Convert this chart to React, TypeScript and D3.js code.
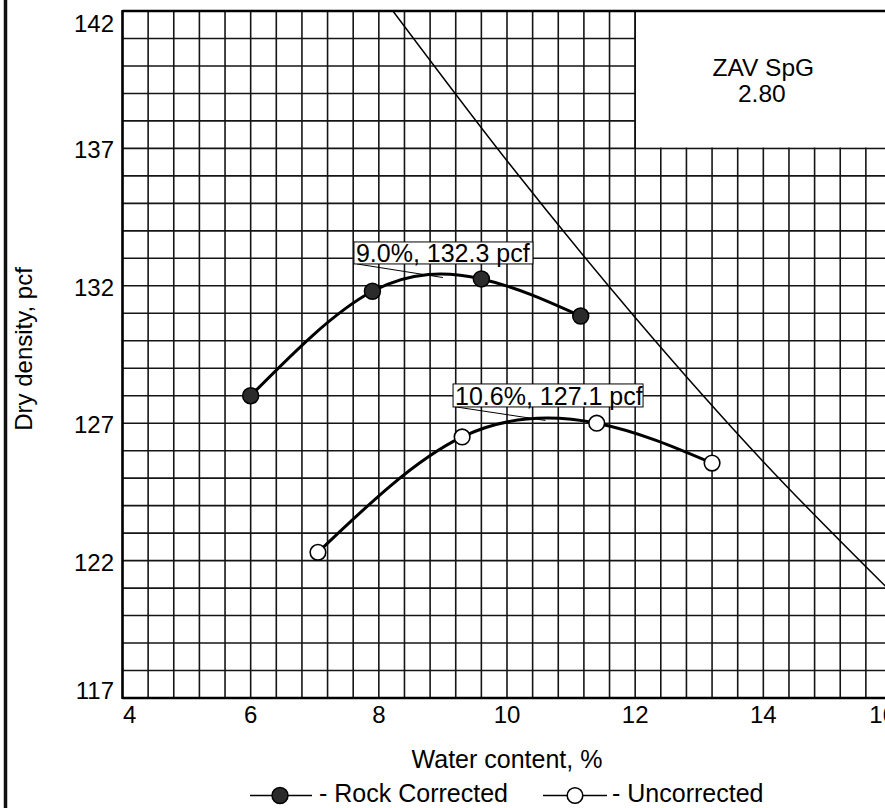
import React from "react";
import * as d3 from "d3";

const xTicks = [4, 6, 8, 10, 12, 14, 16];
const yTicks = [117, 122, 127, 132, 137, 142];

const rockWater = [6.0, 7.9, 9.6, 11.15];
const rockDensity = [128.0, 131.8, 132.25, 130.9];

const uncWater = [7.05, 9.3, 11.4, 13.2];
const uncDensity = [122.3, 126.5, 127.0, 125.55];

const zavWater = [8.22, 10, 12, 14, 16];
const zavDensity = [142.0, 136.55, 130.85, 125.6, 120.85];

const peakLabels = ["9.0%, 132.3 pcf", "10.6%, 127.1 pcf"];
const peakWater = [9.0, 10.6];
const peakDensity = [132.3, 127.1];

const zavText = ["ZAV SpG", "2.80"];
const legendLabels = ["- Rock Corrected", "- Uncorrected"];

const FONT = "'Liberation Sans', Arial, Helvetica, sans-serif";

export default function App() {
  const W = 885;
  const H = 808;
  const x = d3.scaleLinear().domain([4, 16]).range([122.5, 891.5]);
  const y = d3.scaleLinear().domain([117, 142]).range([698, 11]);

  const vGrid = d3.range(0, 31).map((i) => 4 + i * 0.4);
  const hGrid = d3.range(117, 143, 1);

  const line = d3
    .line<[number, number]>()
    .x((d) => x(d[0]))
    .y((d) => y(d[1]))
    .curve(d3.curveNatural);

  const rockPts: [number, number][] = rockWater.map((w, i) => [w, rockDensity[i]]);
  const uncPts: [number, number][] = uncWater.map((w, i) => [w, uncDensity[i]]);
  const zavPts: [number, number][] = zavWater.map((w, i) => [w, zavDensity[i]]);

  const zavLine = d3
    .line<[number, number]>()
    .x((d) => x(d[0]))
    .y((d) => y(d[1]))
    .curve(d3.curveMonotoneX);

  const boxDx = [-89, -92.4];
  const boxDy = [-13.6, -13.5];
  const boxW = [179, 190];
  const boxH = [22, 23];

  const plotL = x(4);
  const plotR = x(16);
  const plotT = y(142);
  const plotB = y(117);

  return (
    <svg
      width={W}
      height={H}
      style={{ position: "absolute", left: 0, top: 0, background: "#fff" }}
      fontFamily={FONT}
    >
      <defs>
        <clipPath id="plotclip">
          <rect x={plotL} y={plotT} width={plotR - plotL} height={plotB - plotT} />
        </clipPath>
      </defs>
      <rect x={0} y={0} width={W} height={H} fill="#fff" />
      {/* left frame line */}
      <line x1={5.5} x2={5.5} y1={0} y2={H} stroke="#111" strokeWidth={3.5} />

      {/* grid */}
      <g stroke="#151515" strokeWidth={1.6}>
        {vGrid.map((v, i) => (
          <line key={"v" + i} x1={x(v)} x2={x(v)} y1={plotT} y2={plotB} />
        ))}
        {hGrid.map((v, i) => (
          <line key={"h" + i} x1={plotL} x2={plotR} y1={y(v)} y2={y(v)} />
        ))}
      </g>

      {/* ZAV label box */}
      <rect x={x(12) + 0.8} y={y(142)} width={x(16) - x(12)} height={y(137) - y(142) - 1} fill="#fff" />
      <line x1={x(12)} x2={x(12)} y1={y(142)} y2={y(137)} stroke="#111" strokeWidth={1.6} />
      <text x={(x(12) + x(16)) / 2} y={76} textAnchor="middle" fontSize={24.5} fill="#000">
        {zavText[0]}
      </text>
      <text x={(x(12) + x(16)) / 2 - 1.5} y={101.5} textAnchor="middle" fontSize={24.5} fill="#000">
        {zavText[1]}
      </text>

      <g clipPath="url(#plotclip)">
        <path d={zavLine(zavPts) || ""} fill="none" stroke="#000" strokeWidth={1.5} />
        <path d={line(rockPts) || ""} fill="none" stroke="#000" strokeWidth={3} />
        <path d={line(uncPts) || ""} fill="none" stroke="#000" strokeWidth={3} />
      </g>

      {/* peak annotations */}
      {peakLabels.map((lab, i) => {
        const px = x(peakWater[i]);
        const py = y(peakDensity[i]);
        const bl = px + boxDx[i];
        const bb = py + boxDy[i];
        return (
          <g key={"pk" + i}>
            <line x1={bl + 3} y1={bb} x2={px} y2={py} stroke="#000" strokeWidth={1} />
            <rect x={bl} y={bb - boxH[i]} width={boxW[i]} height={boxH[i]} fill="#fff" stroke="#000" strokeWidth={1} />
            <text x={bl + 2} y={bb - 1.5} fontSize={25} fill="#000">
              {lab}
            </text>
          </g>
        );
      })}

      {/* markers */}
      {rockPts.map((p, i) => (
        <circle key={"r" + i} cx={x(p[0])} cy={y(p[1])} r={8} fill="#2b2b2b" stroke="#000" strokeWidth={1.5} />
      ))}
      {uncPts.map((p, i) => (
        <circle key={"u" + i} cx={x(p[0])} cy={y(p[1])} r={7.8} fill="#fff" stroke="#000" strokeWidth={1.6} />
      ))}

      {/* frame */}
      <line x1={plotL} x2={plotL} y1={plotT - 1} y2={plotB + 1} stroke="#000" strokeWidth={2.5} />
      <line x1={plotL} x2={W} y1={plotB} y2={plotB} stroke="#000" strokeWidth={2.5} />
      <line x1={plotL} x2={W} y1={plotT} y2={plotT} stroke="#000" strokeWidth={2.5} />

      {/* y tick labels */}
      {yTicks.map((t, i) => {
        let dy = 10;
        if (i === 0) dy = 1;
        if (i === yTicks.length - 1) dy = 21;
        return (
          <text key={"yt" + i} x={114} y={y(t) + dy} textAnchor="end" fontSize={24} fill="#000">
            {t}
          </text>
        );
      })}
      {/* x tick labels */}
      {xTicks.map((t, i) => {
        let xx = x(t);
        let anchor: "middle" | "start" = "middle";
        if (i === 0) {
          xx = x(t) + 0.5;
          anchor = "start";
        }
        if (i === xTicks.length - 1) xx = x(t) - 9;
        return (
          <text key={"xt" + i} x={xx} y={723} textAnchor={anchor} fontSize={24} fill="#000">
            {t}
          </text>
        );
      })}

      {/* axis titles */}
      <text x={507} y={768} textAnchor="middle" fontSize={25} fill="#000">
        Water content, %
      </text>
      <text transform="translate(31.5,349) rotate(-90)" textAnchor="middle" fontSize={24} fill="#000">
        Dry density, pcf
      </text>

      {/* legend */}
      <line x1={250} x2={312} y1={795.5} y2={795.5} stroke="#000" strokeWidth={1.3} />
      <circle cx={280} cy={795.5} r={8} fill="#2b2b2b" stroke="#000" strokeWidth={1.5} />
      <text x={319} y={802} fontSize={25} fill="#000">
        {legendLabels[0]}
      </text>
      <line x1={543} x2={607} y1={795.5} y2={795.5} stroke="#000" strokeWidth={1.3} />
      <circle cx={575} cy={795.5} r={7.8} fill="#fff" stroke="#000" strokeWidth={1.6} />
      <text x={612} y={802} fontSize={25} fill="#000">
        {legendLabels[1]}
      </text>
    </svg>
  );
}
